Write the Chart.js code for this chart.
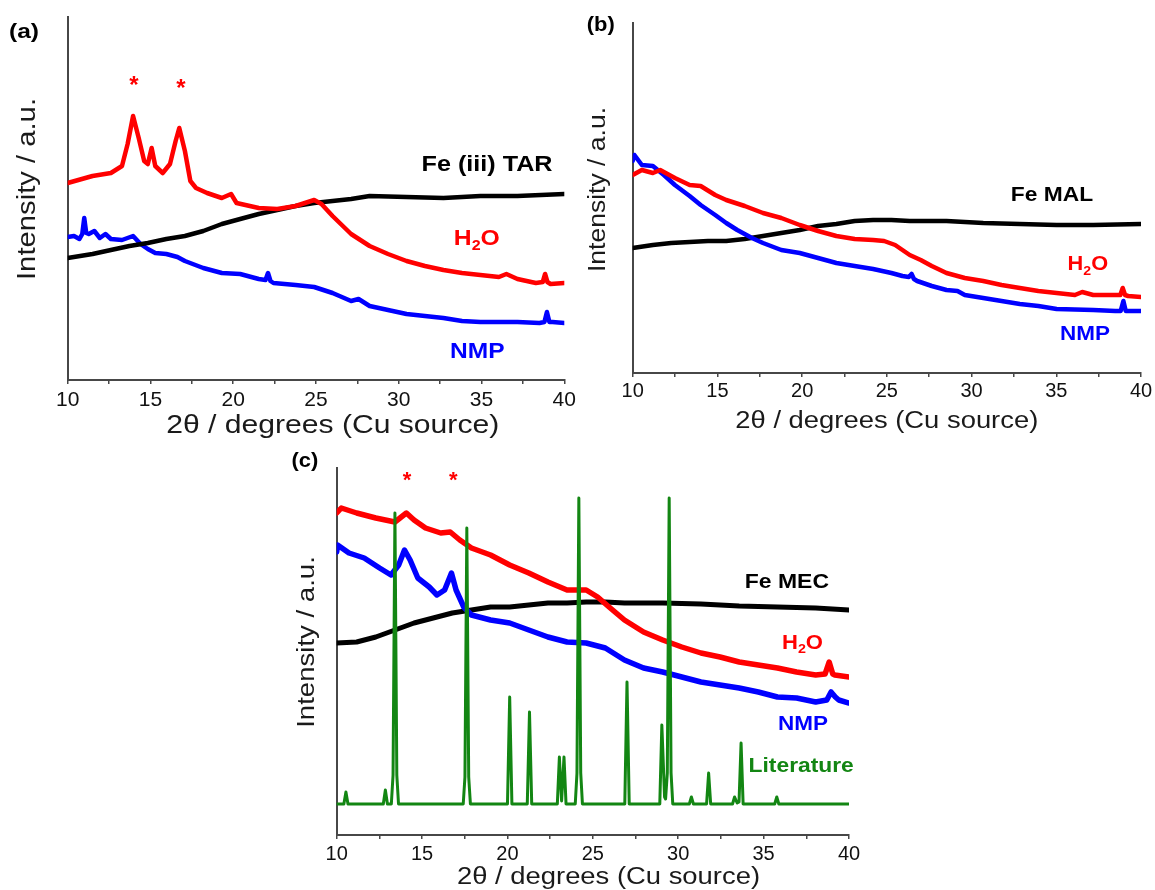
<!DOCTYPE html>
<html><head><meta charset="utf-8">
<script src="https://cdn.jsdelivr.net/npm/chart.js@4.4.1/dist/chart.umd.min.js"></script>
<style>
html,body{margin:0;padding:0;background:#fff;overflow:hidden;width:1155px;height:890px;}
canvas{position:absolute;}
</style></head><body>
<canvas id="ca" width="580" height="445" style="left:0;top:0"></canvas>
<canvas id="cb" width="575" height="445" style="left:580px;top:0"></canvas>
<canvas id="cc" width="600" height="450" style="left:280px;top:445px"></canvas>
<script>
// ---------- Panel (a): Fe (iii) TAR ----------
const aH2O_x = [10.0,11.5,12.61,13.28,13.62,13.95,14.29,14.62,14.84,15.07,15.29,15.74,16.18,16.52,16.74,17.08,17.41,17.75,18.42,19.31,19.87,20.2,21.54,22.66,23.77,24.89,25.33,26.0,27.12,28.24,29.35,30.47,31.58,32.7,33.82,34.93,36.05,36.5,37.17,38.28,38.7,38.84,38.98,39.17,40.0];
const aH2O_y = [197,204,207,214,236,264,242,219,216,232,214,207,216,239,252,229,199,192,187,182,186,177,172,171,174,180,176,164,146,134,126,119,114,110,107,105,103,106,101,97,98,106,98,96,97];
const aTAR_x = [10,11.5,12.61,13.73,14.84,15.96,17.08,18.19,19.31,20.42,21.54,22.66,23.77,24.89,26.0,27.12,28.24,30.47,32.7,34.93,37.17,40];
const aTAR_y = [122,126,130,134,137,141,144,149,156,161,166,170,174,177,179,181,184,183,182,184,184,186];
const aNMP_x = [10,10.38,10.71,10.88,11.0,11.12,11.27,11.61,11.94,12.28,12.61,13.28,13.95,14.4,14.84,15.29,15.96,16.63,17.08,18.19,19.31,20.42,21.54,21.95,22.1,22.25,22.43,23.77,24.89,26.0,27.12,27.57,28.24,29.35,30.47,31.58,32.7,33.82,34.93,37.17,38.5,38.8,38.95,39.1,39.29,40];
const aNMP_y = [143,144,141,146,162,147,146,149,142,146,141,140,144,136,131,127,126,123,119,112,107,106,101,100,107,99,97,95,93,87,79,81,74,70,66,64,62,59,58,58,57,58,68,58,58,57];

// ---------- Panel (b): Fe MAL ----------
const bH2O_x = [10,10.54,11.19,11.62,12.49,13.36,14.01,14.87,15.52,16.61,17.69,18.77,19.86,20.94,22.02,23.1,24.19,24.84,25.49,25.92,26.35,27.0,27.65,28.52,29.6,30.69,31.77,32.85,33.94,35.02,36.1,36.53,37.18,38.27,38.78,38.92,39.06,39.24,40];
const bH2O_y = [198,203,200,203,195,188,187,178,173,167,160,155,148,142,137,134,133,132,128,123,118,113,107,100,95,92,88,85,82,80,78,81,78,78,78,85,78,77,76];
const bNMP_x = [10,10.1,10.54,11.19,11.84,12.49,13.36,14.01,14.87,15.52,16.17,17.04,17.69,18.77,19.86,20.94,22.02,23.1,24.19,25.27,25.92,26.3,26.46,26.6,26.79,27.65,28.52,29.17,29.6,30.69,31.77,32.85,33.94,35.02,37.18,38.48,38.8,38.96,39.1,39.24,40];
const bNMP_y = [212,218,208,207,198,188,177,168,158,150,143,135,130,123,120,115,110,107,104,100,97,96,99,94,92,87,83,82,78,75,72,69,67,64,63,62,62,72,62,62,62];
const bMAL_x = [10,11.19,12.27,13.36,14.44,15.52,16.61,17.69,18.77,19.86,20.94,22.02,23.1,24.19,25.27,26.35,28.52,30.69,32.85,35.02,37.18,40];
const bMAL_y = [125,128,130,131,132,132,134,137,140,143,147,149,152,153,153,152,152,150,149,148,148,149];

// ---------- Panel (c): Fe MEC ----------
const cH2O_x = [10,10.27,11.17,12.29,13.41,14.08,14.53,15.2,16.09,16.65,17.21,17.89,19.01,20.13,21.25,22.37,23.49,24.61,25.28,25.95,26.85,27.97,29.09,30.21,31.33,32.45,33.57,34.69,35.81,36.93,38.05,38.6,38.84,39.05,39.17,40];
const cH2O_y = [322,327,322,317,313,322,315,307,302,303,295,287,280,270,262,253,245,245,238,228,215,203,195,188,182,178,173,170,167,163,160,161,173,161,160,158];
const cNMP_x = [10,10.05,10.72,11.61,12.51,13.18,13.63,13.97,14.3,14.75,15.42,15.87,16.32,16.72,16.99,17.44,17.89,19.01,20.13,21.25,22.37,23.49,24.61,25.73,26.85,27.97,29.09,30.21,31.33,32.45,33.57,34.69,35.81,36.93,38.05,38.7,38.95,39.2,39.4,40];
const cNMP_y = [283,290,282,277,267,260,270,285,275,257,248,240,245,262,245,228,220,215,212,205,198,193,192,187,175,167,163,158,153,150,147,143,138,137,133,135,143,138,135,132];
const cMEC_x = [10,11.17,12.29,13.41,14.53,15.65,16.77,17.89,19.01,20.13,21.25,22.37,23.49,24.61,25.73,26.85,29.09,31.33,33.57,35.81,38.05,40];
const cMEC_y = [192,193,198,205,212,217,222,225,228,228,230,232,232,233,233,232,232,231,229,228,227,225];
const cLit_x = [10, 10.42,10.54,10.66, 12.73,12.85,12.97, 13.2,13.3,13.41,13.52,13.62, 17.41,17.51,17.62,17.73,17.83, 20.0,20.13,20.26, 21.16,21.29,21.42, 22.92,23.04,23.17,23.31,23.43, 23.97,24.07,24.18,24.29,24.39, 26.87,27.0,27.13, 28.92,29.04,29.2,29.26,29.36,29.47,29.58,29.68, 30.65,30.77,30.89, 31.66,31.78,31.9, 33.18,33.3,33.45,33.56,33.68,33.8, 35.65,35.77,35.89, 40];
const cLit_y = [31, 31,43,31, 31,45,31, 31,60,322,60,31, 31,58,307,58,31, 31,138,31, 31,123,31, 31,78,34,78,31, 31,62,337,62,31, 31,153,31, 31,110,38,36,62,337,62,31, 31,38,31, 31,62,31, 31,38,32,33,92,31, 31,38,31, 31];

// ---------- tick / label text ----------
const xTitle = '2\u03b8 / degrees (Cu source)';
const yTitle = 'Intensity / a.u.';

const FONT = '"Liberation Sans", Arial, Helvetica, sans-serif';
const AXIS = '#474747';
const RED = '#ff0000', BLUE = '#0000ff', BLACK = '#000000', GREEN = '#138613';

function pts(xs, ys) {
  const n = Math.min(xs.length, ys.length), o = [];
  for (let i = 0; i < n; i++) o.push({x: xs[i], y: ys[i]});
  return o;
}

function drawLabel(ctx, it, ox, oy) {
  ctx.save();
  ctx.fillStyle = it.color || '#111';
  const weight = it.bold ? 'bold ' : '';
  const size = it.size;
  const fontFor = sub => weight + (sub ? size * 0.65 : size) + 'px ' + FONT;
  ctx.textBaseline = 'alphabetic';
  ctx.textAlign = 'left';
  const parts = it.parts || [[it.text, 0]];
  let w = 0; const ws = [];
  for (const [s, sub] of parts) { ctx.font = fontFor(sub); const m = ctx.measureText(s).width; ws.push(m); w += m; }
  const sx = it.w ? it.w / w : 1;
  ctx.translate(it.x - ox, it.y - oy);
  if (it.rot) ctx.rotate(it.rot);
  ctx.scale(sx, 1);
  let by = 0;
  if (it.vc) {
    ctx.font = fontFor(0);
    const m = ctx.measureText(parts[0][0]);
    by = (m.actualBoundingBoxAscent - m.actualBoundingBoxDescent) / 2;
  }
  let cx = -w / 2;
  parts.forEach(([s, sub], i) => {
    ctx.font = fontFor(sub);
    ctx.fillText(s, cx, by + (sub ? size * 0.22 : 0));
    cx += ws[i];
  });
  ctx.restore();
}

function textLayer(items, ox, oy) {
  return { id: 'textLayer', afterDraw(chart) { for (const it of items) drawLabel(chart.ctx, it, ox, oy); } };
}

function line(xs, ys, color, width) {
  return { data: pts(xs, ys), borderColor: color, backgroundColor: color, borderWidth: width, fill: false, pointRadius: 0 };
}

function makePanel(id, cfg) {
  new Chart(document.getElementById(id), {
    type: 'line',
    data: { datasets: cfg.datasets },
    options: {
      responsive: false, animation: false, devicePixelRatio: 1, events: [],
      layout: { padding: { top: cfg.padTop, right: cfg.padRight, left: 0, bottom: 0 } },
      plugins: { legend: { display: false }, tooltip: { enabled: false }, title: { display: false } },
      elements: { point: { radius: 0 }, line: { tension: 0, borderJoinStyle: 'round', borderCapStyle: 'round' } },
      scales: {
        x: {
          type: 'linear', min: 10, max: 40,
          afterFit(s) { s.height = cfg.xH; },
          ticks: { stepSize: 2.5, autoSkip: false, maxRotation: 0, minRotation: 0, padding: cfg.tickPad,
                   color: '#111', font: { family: FONT, size: cfg.tickSize },
                   callback: v => (Math.abs(v % 5) < 1e-6 ? String(v) : '') },
          grid: { display: true, drawOnChartArea: false, drawTicks: true, tickLength: 4, color: AXIS, lineWidth: 1.5 },
          border: { display: true, color: AXIS, width: 2 }
        },
        y: {
          type: 'linear', min: 0, max: cfg.yMax,
          afterFit(s) { s.width = cfg.yW; },
          ticks: { display: false },
          grid: { display: false },
          border: { display: true, color: AXIS, width: 2 }
        }
      }
    },
    plugins: [textLayer(cfg.labels, cfg.ox, cfg.oy)]
  });
}

const ROT = -Math.PI / 2;

makePanel('ca', {
  ox: 0, oy: 0, padTop: 17, padRight: 15.7, yW: 67.7, xH: 65, yMax: 363, tickPad: 3.2, tickSize: 21,
  datasets: [ line(aH2O_x, aH2O_y, RED, 4.5), line(aTAR_x, aTAR_y, BLACK, 4.5), line(aNMP_x, aNMP_y, BLUE, 4.5) ],
  labels: [
    { text: '(a)', x: 24, y: 38.4, size: 20.6, bold: true, w: 30, color: '#000' },
    { text: yTitle, x: 35.1, y: 189, size: 25.6, rot: ROT, w: 182, color: '#1a1a1a' },
    { text: xTitle, x: 332.7, y: 433.3, size: 25.6, w: 333, color: '#1a1a1a' },
    { text: 'Fe (iii) TAR', x: 487, y: 170.9, size: 22, bold: true, w: 131, color: BLACK },
    { parts: [['H', 0], ['2', 1], ['O', 0]], x: 476.8, y: 245.4, size: 22, bold: true, w: 46, color: RED },
    { text: 'NMP', x: 477.3, y: 357.9, size: 22, bold: true, w: 54.5, color: BLUE },
    { text: '*', x: 134, y: 80, size: 24, bold: true, vc: true, color: RED },
    { text: '*', x: 181, y: 83, size: 24, bold: true, vc: true, color: RED }
  ]
});

makePanel('cb', {
  ox: 580, oy: 0, padTop: 23, padRight: 14, yW: 52.7, xH: 72, yMax: 350, tickPad: 2.5, tickSize: 20,
  datasets: [ line(bH2O_x, bH2O_y, RED, 4.5), line(bNMP_x, bNMP_y, BLUE, 4.5), line(bMAL_x, bMAL_y, BLACK, 4.5) ],
  labels: [
    { text: '(b)', x: 600.8, y: 30.9, size: 19.5, bold: true, w: 28, color: '#000' },
    { text: yTitle, x: 605, y: 189.5, size: 23.3, rot: ROT, w: 165, color: '#1a1a1a' },
    { text: xTitle, x: 886.8, y: 428.3, size: 23.3, w: 303, color: '#1a1a1a' },
    { text: 'Fe MAL', x: 1051.9, y: 200.5, size: 20, bold: true, w: 82.3, color: BLACK },
    { parts: [['H', 0], ['2', 1], ['O', 0]], x: 1087.8, y: 270.2, size: 20, bold: true, w: 40.5, color: RED },
    { text: 'NMP', x: 1085, y: 340.2, size: 20, bold: true, w: 50, color: BLUE }
  ]
});

makePanel('cc', {
  ox: 280, oy: 445, padTop: 23, padRight: 31, yW: 56.7, xH: 60, yMax: 367, tickPad: 3.6, tickSize: 20,
  datasets: [ line(cLit_x, cLit_y, GREEN, 3), line(cH2O_x, cH2O_y, RED, 5.5), line(cNMP_x, cNMP_y, BLUE, 5.5), line(cMEC_x, cMEC_y, BLACK, 5) ],
  labels: [
    { text: '(c)', x: 304.9, y: 467.3, size: 21, bold: true, w: 26.8, color: '#000' },
    { text: yTitle, x: 314, y: 642, size: 23.5, rot: ROT, w: 171.7, color: '#1a1a1a' },
    { text: xTitle, x: 608.5, y: 883.5, size: 23.5, w: 303, color: '#1a1a1a' },
    { text: 'Fe MEC', x: 786.9, y: 588, size: 20.5, bold: true, w: 84.2, color: BLACK },
    { parts: [['H', 0], ['2', 1], ['O', 0]], x: 802.5, y: 648.9, size: 20, bold: true, w: 41, color: RED },
    { text: 'NMP', x: 803, y: 729.7, size: 20, bold: true, w: 50, color: BLUE },
    { text: 'Literature', x: 801.2, y: 772.2, size: 20, bold: true, w: 105.2, color: GREEN },
    { text: '*', x: 407, y: 476, size: 22, bold: true, vc: true, color: RED },
    { text: '*', x: 453.3, y: 476.7, size: 22, bold: true, vc: true, color: RED }
  ]
});
</script>
</body></html>
